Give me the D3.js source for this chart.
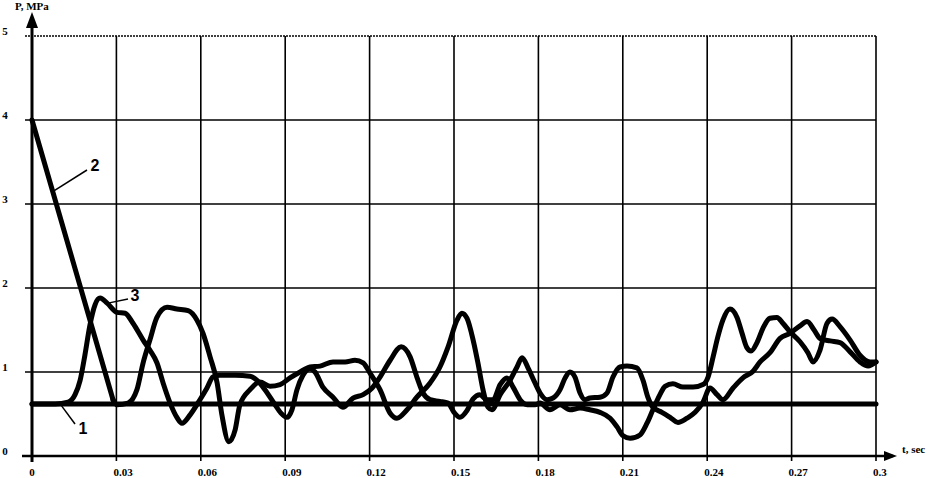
<!DOCTYPE html>
<html>
<head>
<meta charset="utf-8">
<script src="https://cdn.jsdelivr.net/npm/d3@7"></script>
<style>
    body { margin: 0; background: #fff; }
    svg { display: block; }
</style>
</head>
<body>
<svg width="934" height="478"></svg>
<script>
// time ticks (sec) and pressure ticks (MPa)
var xTicks = [0, 0.03, 0.06, 0.09, 0.12, 0.15, 0.18, 0.21, 0.24, 0.27, 0.3];
var xTickLabels = ["0", "0.03", "0.06", "0.09", "0.12", "0.15", "0.18", "0.21", "0.24", "0.27", "0.3"];
var yTicks = [0, 1, 2, 3, 4, 5];
var yTickLabels = ["0", "1", "2", "3", "4", "5"];

// curve 1 - constant level
var t1 = [0, 0.3];
var p1 = [0.62, 0.62];

// curve 2 (first segment is the straight drop from 4 MPa)
var t2 = [0, 0.0288, 0.0302, 0.0341, 0.0373, 0.0395, 0.0419, 0.0444, 0.048, 0.0515, 0.0555, 0.0586, 0.0608, 0.0633, 0.0658, 0.0675, 0.070, 0.0722, 0.0739, 0.0775, 0.081, 0.0846, 0.0882, 0.0917, 0.0953, 0.0988, 0.1024, 0.107, 0.1113, 0.1148, 0.1177, 0.1201, 0.1237, 0.1273, 0.1297, 0.1333, 0.1368, 0.1415, 0.145, 0.1479, 0.1511, 0.1528, 0.1546, 0.1568, 0.1585, 0.1603, 0.1621, 0.1635, 0.1664, 0.1699, 0.1724, 0.1742, 0.1763, 0.1788, 0.1806, 0.1831, 0.1852, 0.1877, 0.1895, 0.1912, 0.193, 0.1948, 0.1966, 0.1983, 0.2019, 0.2044, 0.2065, 0.209, 0.2115, 0.215, 0.2172, 0.2189, 0.2207, 0.2239, 0.2268, 0.2296, 0.2328, 0.2357, 0.2385, 0.241, 0.2435, 0.2456, 0.2492, 0.2527, 0.2563, 0.2588, 0.2623, 0.2659, 0.2694, 0.273, 0.2755, 0.278, 0.2801, 0.2837, 0.2872, 0.2908, 0.2943, 0.2972, 0.3];
var p2 = [4.0, 0.67, 0.61, 0.63, 0.79, 1.11, 1.38, 1.65, 1.77, 1.75, 1.73, 1.62, 1.46, 1.18, 0.87, 0.49, 0.17, 0.31, 0.61, 0.79, 0.88, 0.83, 0.85, 0.93, 1.00, 1.06, 1.07, 1.12, 1.12, 1.14, 1.11, 0.99, 0.79, 0.51, 0.45, 0.55, 0.70, 0.87, 1.06, 1.30, 1.62, 1.70, 1.64, 1.38, 1.11, 0.79, 0.58, 0.55, 0.73, 0.90, 1.06, 1.17, 1.05, 0.87, 0.75, 0.67, 0.69, 0.79, 0.93, 1.00, 0.94, 0.75, 0.67, 0.69, 0.70, 0.75, 0.94, 1.06, 1.07, 1.05, 0.90, 0.70, 0.58, 0.52, 0.46, 0.40, 0.45, 0.52, 0.64, 0.81, 0.73, 0.67, 0.81, 0.93, 1.01, 1.12, 1.23, 1.40, 1.46, 1.55, 1.60, 1.50, 1.40, 1.37, 1.35, 1.24, 1.12, 1.07, 1.12];

// curve 3
var t3 = [0, 0.0082, 0.0128, 0.0153, 0.0171, 0.0188, 0.0206, 0.0224, 0.0242, 0.0267, 0.0302, 0.0331, 0.0359, 0.0395, 0.0419, 0.0444, 0.0466, 0.0491, 0.0515, 0.0533, 0.0562, 0.0597, 0.0622, 0.0643, 0.0668, 0.0722, 0.0775, 0.080, 0.0828, 0.0864, 0.0885, 0.0906, 0.0924, 0.0942, 0.0963, 0.0988, 0.1006, 0.1034, 0.107, 0.1105, 0.1141, 0.1177, 0.1209, 0.1237, 0.1273, 0.1312, 0.1344, 0.1368, 0.139, 0.1415, 0.145, 0.1479, 0.15, 0.1521, 0.1546, 0.1568, 0.1592, 0.1617, 0.1639, 0.1664, 0.1688, 0.171, 0.1735, 0.176, 0.1788, 0.1806, 0.1841, 0.1877, 0.1912, 0.1948, 0.1983, 0.2019, 0.2055, 0.2079, 0.2101, 0.2126, 0.2161, 0.2186, 0.2207, 0.2232, 0.225, 0.2278, 0.2314, 0.235, 0.2385, 0.2403, 0.2421, 0.2438, 0.2456, 0.2481, 0.2506, 0.2524, 0.2541, 0.2556, 0.2577, 0.2598, 0.2623, 0.2648, 0.2669, 0.2694, 0.273, 0.2758, 0.2776, 0.2801, 0.2826, 0.2844, 0.2872, 0.2908, 0.2943, 0.2979, 0.3];
var p3 = [0.62, 0.62, 0.64, 0.73, 0.90, 1.20, 1.56, 1.80, 1.88, 1.82, 1.71, 1.70, 1.58, 1.38, 1.26, 1.11, 0.87, 0.63, 0.46, 0.39, 0.49, 0.67, 0.81, 0.94, 0.96, 0.96, 0.95, 0.90, 0.79, 0.61, 0.51, 0.46, 0.55, 0.79, 0.96, 1.04, 1.00, 0.82, 0.70, 0.58, 0.69, 0.73, 0.81, 0.94, 1.14, 1.30, 1.18, 0.94, 0.75, 0.67, 0.65, 0.63, 0.52, 0.46, 0.54, 0.68, 0.73, 0.67, 0.67, 0.85, 0.93, 0.82, 0.67, 0.61, 0.61, 0.63, 0.55, 0.61, 0.55, 0.57, 0.55, 0.52, 0.45, 0.35, 0.24, 0.21, 0.25, 0.39, 0.55, 0.73, 0.83, 0.86, 0.82, 0.82, 0.85, 0.94, 1.18, 1.42, 1.62, 1.75, 1.65, 1.46, 1.29, 1.25, 1.35, 1.52, 1.64, 1.65, 1.58, 1.48, 1.36, 1.23, 1.12, 1.26, 1.58, 1.63, 1.54, 1.38, 1.20, 1.12, 1.12];

window.onload = function () {
    var svg = d3.select("svg"),
        margin = {top: 36, right: 58, bottom: 22, left: 32},
        width = +svg.attr("width") - margin.left - margin.right,
        height = +svg.attr("height") - margin.top - margin.bottom,
        g = svg.append("g").attr("transform", "translate(" + margin.left + "," + margin.top + ")");

    var x = d3.scaleLinear().domain([0, 0.3]).range([0, width]);
    var y = d3.scaleLinear().domain([0, 5]).range([height, 0]);

    var serif = "'Liberation Serif', 'DejaVu Serif', serif";

    // grid
    g.selectAll(".vgrid")
        .data(xTicks)
        .enter().append("line")
        .attr("x1", function(d) { return x(d); })
        .attr("x2", function(d) { return x(d); })
        .attr("y1", 0)
        .attr("y2", height + 5)
        .attr("stroke", "#000")
        .attr("stroke-width", 1.6);

    g.selectAll(".hgrid")
        .data(yTicks.slice(1))
        .enter().append("line")
        .attr("x1", -7)
        .attr("x2", width)
        .attr("y1", function(d) { return y(d); })
        .attr("y2", function(d) { return y(d); })
        .attr("stroke", "#000")
        .attr("stroke-width", 1.6)
        .attr("stroke-dasharray", function(d) { return d === 5 ? "2,1" : null; });

    // axes
    g.append("line")
        .attr("x1", -10).attr("x2", width + 17)
        .attr("y1", height).attr("y2", height)
        .attr("stroke", "#000").attr("stroke-width", 2.5);
    g.append("path")
        .attr("d", "M" + (width + 8) + "," + (height - 5) + "L" + (width + 21) + "," + height + "L" + (width + 8) + "," + (height + 5) + "Z")
        .attr("fill", "#000");

    g.append("line")
        .attr("x1", 0).attr("x2", 0)
        .attr("y1", height + 6).attr("y2", -16)
        .attr("stroke", "#000").attr("stroke-width", 3);
    g.append("path")
        .attr("d", "M-6,-8L0,-24L6,-8Z")
        .attr("fill", "#000");

    // tick labels
    g.selectAll(".xlab")
        .data(xTicks)
        .enter().append("text")
        .attr("x", function(d) { return x(d) + (d === 0 ? 0 : -3); })
        .attr("y", height + 20)
        .attr("text-anchor", function(d) { return d === 0 ? "middle" : "start"; })
        .attr("font-family", serif)
        .attr("font-weight", "bold")
        .attr("font-size", 11)
        .text(function(d, i) { return xTickLabels[i]; });

    g.selectAll(".ylab")
        .data(yTicks)
        .enter().append("text")
        .attr("x", -27)
        .attr("y", function(d) { return y(d) - 1; })
        .attr("text-anchor", "middle")
        .attr("font-family", serif)
        .attr("font-weight", "bold")
        .attr("font-size", 11)
        .text(function(d, i) { return yTickLabels[i]; });

    svg.append("text")
        .attr("x", 15).attr("y", 10)
        .attr("font-family", serif)
        .attr("font-weight", "bold")
        .attr("font-size", 11)
        .text("P, MPa");

    svg.append("text")
        .attr("x", 902).attr("y", 453)
        .attr("font-family", serif)
        .attr("font-weight", "bold")
        .attr("font-size", 11)
        .text("t, sec");

    // curves
    var smooth = d3.line()
        .x(function(d) { return x(d[0]); })
        .y(function(d) { return y(d[1]); })
        .curve(d3.curveMonotoneX);
    var straight = d3.line()
        .x(function(d) { return x(d[0]); })
        .y(function(d) { return y(d[1]); });

    var s1 = d3.zip(t1, p1),
        s2 = d3.zip(t2, p2),
        s3 = d3.zip(t3, p3);

    var paths = [
        straight(s1),
        straight(s2.slice(0, 2)),
        smooth(s2.slice(1)),
        smooth(s3)
    ];

    g.selectAll(".curve")
        .data(paths)
        .enter().append("path")
        .attr("fill", "none")
        .attr("stroke", "#000")
        .attr("stroke-width", 5)
        .attr("stroke-linejoin", "round")
        .attr("stroke-linecap", "round")
        .attr("d", function(d) { return d; });

    // curve labels with leader lines
    var labels = [
        {text: "1", t: 0.010, p: 0.62, lx: 75, ly: 424, tx: 83, ty: 434},
        {text: "2", t: 0.0075, p: 3.15, lx: 87, ly: 170, tx: 95, ty: 171},
        {text: "3", t: 0.027, p: 1.82, lx: 128, ly: 299, tx: 135, ty: 301}
    ];
    labels.forEach(function(l) {
        svg.append("line")
            .attr("x1", margin.left + x(l.t)).attr("y1", margin.top + y(l.p))
            .attr("x2", l.lx).attr("y2", l.ly)
            .attr("stroke", "#000").attr("stroke-width", 1.5);
        svg.append("text")
            .attr("x", l.tx).attr("y", l.ty)
            .attr("text-anchor", "middle")
            .attr("font-family", "'Liberation Sans', Arial, sans-serif")
            .attr("font-weight", "bold")
            .attr("font-size", 16)
            .text(l.text);
    });
};
</script>
</body>
</html>
